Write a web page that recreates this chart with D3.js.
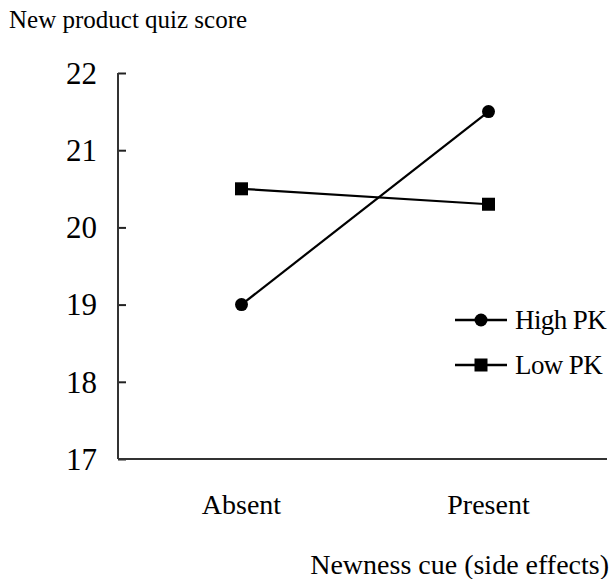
<!DOCTYPE html>
<html lang="en">
<head>
  <meta charset="UTF-8">
  <title>New product quiz score</title>
  <script src="https://d3js.org/d3.v7.min.js"></script>
  <style>
    body {
      margin: 0;
      padding: 0;
      background: #fff;
    }
  </style>
</head>
<body>
  <div id="chart"></div>

  <script>
    // data
    const categories = ["Absent", "Present"];
    const highPK = [19.0, 21.5];
    const lowPK = [20.5, 20.3];
    const yTicks = [17, 18, 19, 20, 21, 22];
    const seriesNames = ["High PK", "Low PK"];

    const W = 614, H = 579;
    const plotLeft = 118, plotTop = 73, plotBottom = 459, plotRight = 607;

    const svg = d3.select("#chart")
      .append("svg")
      .attr("width", W)
      .attr("height", H)
      .attr("font-family", "'Liberation Serif', 'Times New Roman', Times, 'DejaVu Serif', serif");

    const x = d3.scalePoint()
      .domain(categories)
      .range([plotLeft, 612])
      .padding(0.5);

    const y = d3.scaleLinear()
      .domain([17, 22])
      .range([plotBottom, plotTop]);

    // y axis (ticks point inward)
    const yAxis = svg.append("g")
      .attr("transform", `translate(${plotLeft},0)`)
      .call(d3.axisRight(y).tickValues(yTicks).tickSize(8).tickFormat(""));
    yAxis.select(".domain").remove();
    yAxis.selectAll("line").attr("stroke", "#222").attr("stroke-width", 2);

    svg.append("line")
      .attr("x1", plotLeft).attr("x2", plotLeft)
      .attr("y1", plotTop).attr("y2", plotBottom)
      .attr("stroke", "#333").attr("stroke-width", 2);

    svg.append("line")
      .attr("x1", plotLeft).attr("x2", plotRight)
      .attr("y1", plotBottom).attr("y2", plotBottom)
      .attr("stroke", "#333").attr("stroke-width", 2);

    svg.selectAll(".ytick")
      .data(yTicks)
      .enter()
      .append("text")
      .attr("x", 97)
      .attr("y", d => y(d))
      .attr("dy", "0.35em")
      .attr("text-anchor", "end")
      .attr("font-size", 31)
      .text(d => d);

    svg.selectAll(".xlab")
      .data(categories)
      .enter()
      .append("text")
      .attr("x", d => x(d))
      .attr("y", 514)
      .attr("text-anchor", "middle")
      .attr("font-size", 28)
      .text(d => d);

    svg.append("text")
      .attr("x", 9)
      .attr("y", 28)
      .attr("font-size", 25)
      .text("New product quiz score");

    svg.append("text")
      .attr("x", 609)
      .attr("y", 574)
      .attr("text-anchor", "end")
      .attr("font-size", 28)
      .text("Newness cue (side effects)");

    const line = d3.line()
      .x((d, i) => x(categories[i]))
      .y(d => y(d));

    // lines
    svg.append("path")
      .datum(highPK)
      .attr("d", line)
      .attr("fill", "none")
      .attr("stroke", "#000")
      .attr("stroke-width", 2.2);

    svg.append("path")
      .datum(lowPK)
      .attr("d", line)
      .attr("fill", "none")
      .attr("stroke", "#000")
      .attr("stroke-width", 2.2);

    // markers
    svg.selectAll(".high")
      .data(highPK)
      .enter()
      .append("circle")
      .attr("cx", (d, i) => x(categories[i]))
      .attr("cy", d => y(d))
      .attr("r", 6.5)
      .attr("fill", "#000");

    svg.selectAll(".low")
      .data(lowPK)
      .enter()
      .append("rect")
      .attr("x", (d, i) => x(categories[i]) - 6.5)
      .attr("y", d => y(d) - 6.5)
      .attr("width", 13)
      .attr("height", 13)
      .attr("fill", "#000");

    // legend
    const legend = svg.append("g").attr("transform", "translate(455,320)");
    seriesNames.forEach((name, i) => {
      const g = legend.append("g").attr("transform", `translate(0,${i * 45})`);
      g.append("line")
        .attr("x1", 0).attr("x2", 52)
        .attr("stroke", "#000").attr("stroke-width", 2.5);
      if (i === 0) {
        g.append("circle").attr("cx", 26).attr("r", 6.5).attr("fill", "#000");
      } else {
        g.append("rect").attr("x", 19.5).attr("y", -6.5)
          .attr("width", 13).attr("height", 13).attr("fill", "#000");
      }
      g.append("text")
        .attr("x", 60)
        .attr("dy", "0.33em")
        .attr("font-size", 27)
        .attr("letter-spacing", -0.6)
        .text(name);
    });
  </script>
</body>
</html>
